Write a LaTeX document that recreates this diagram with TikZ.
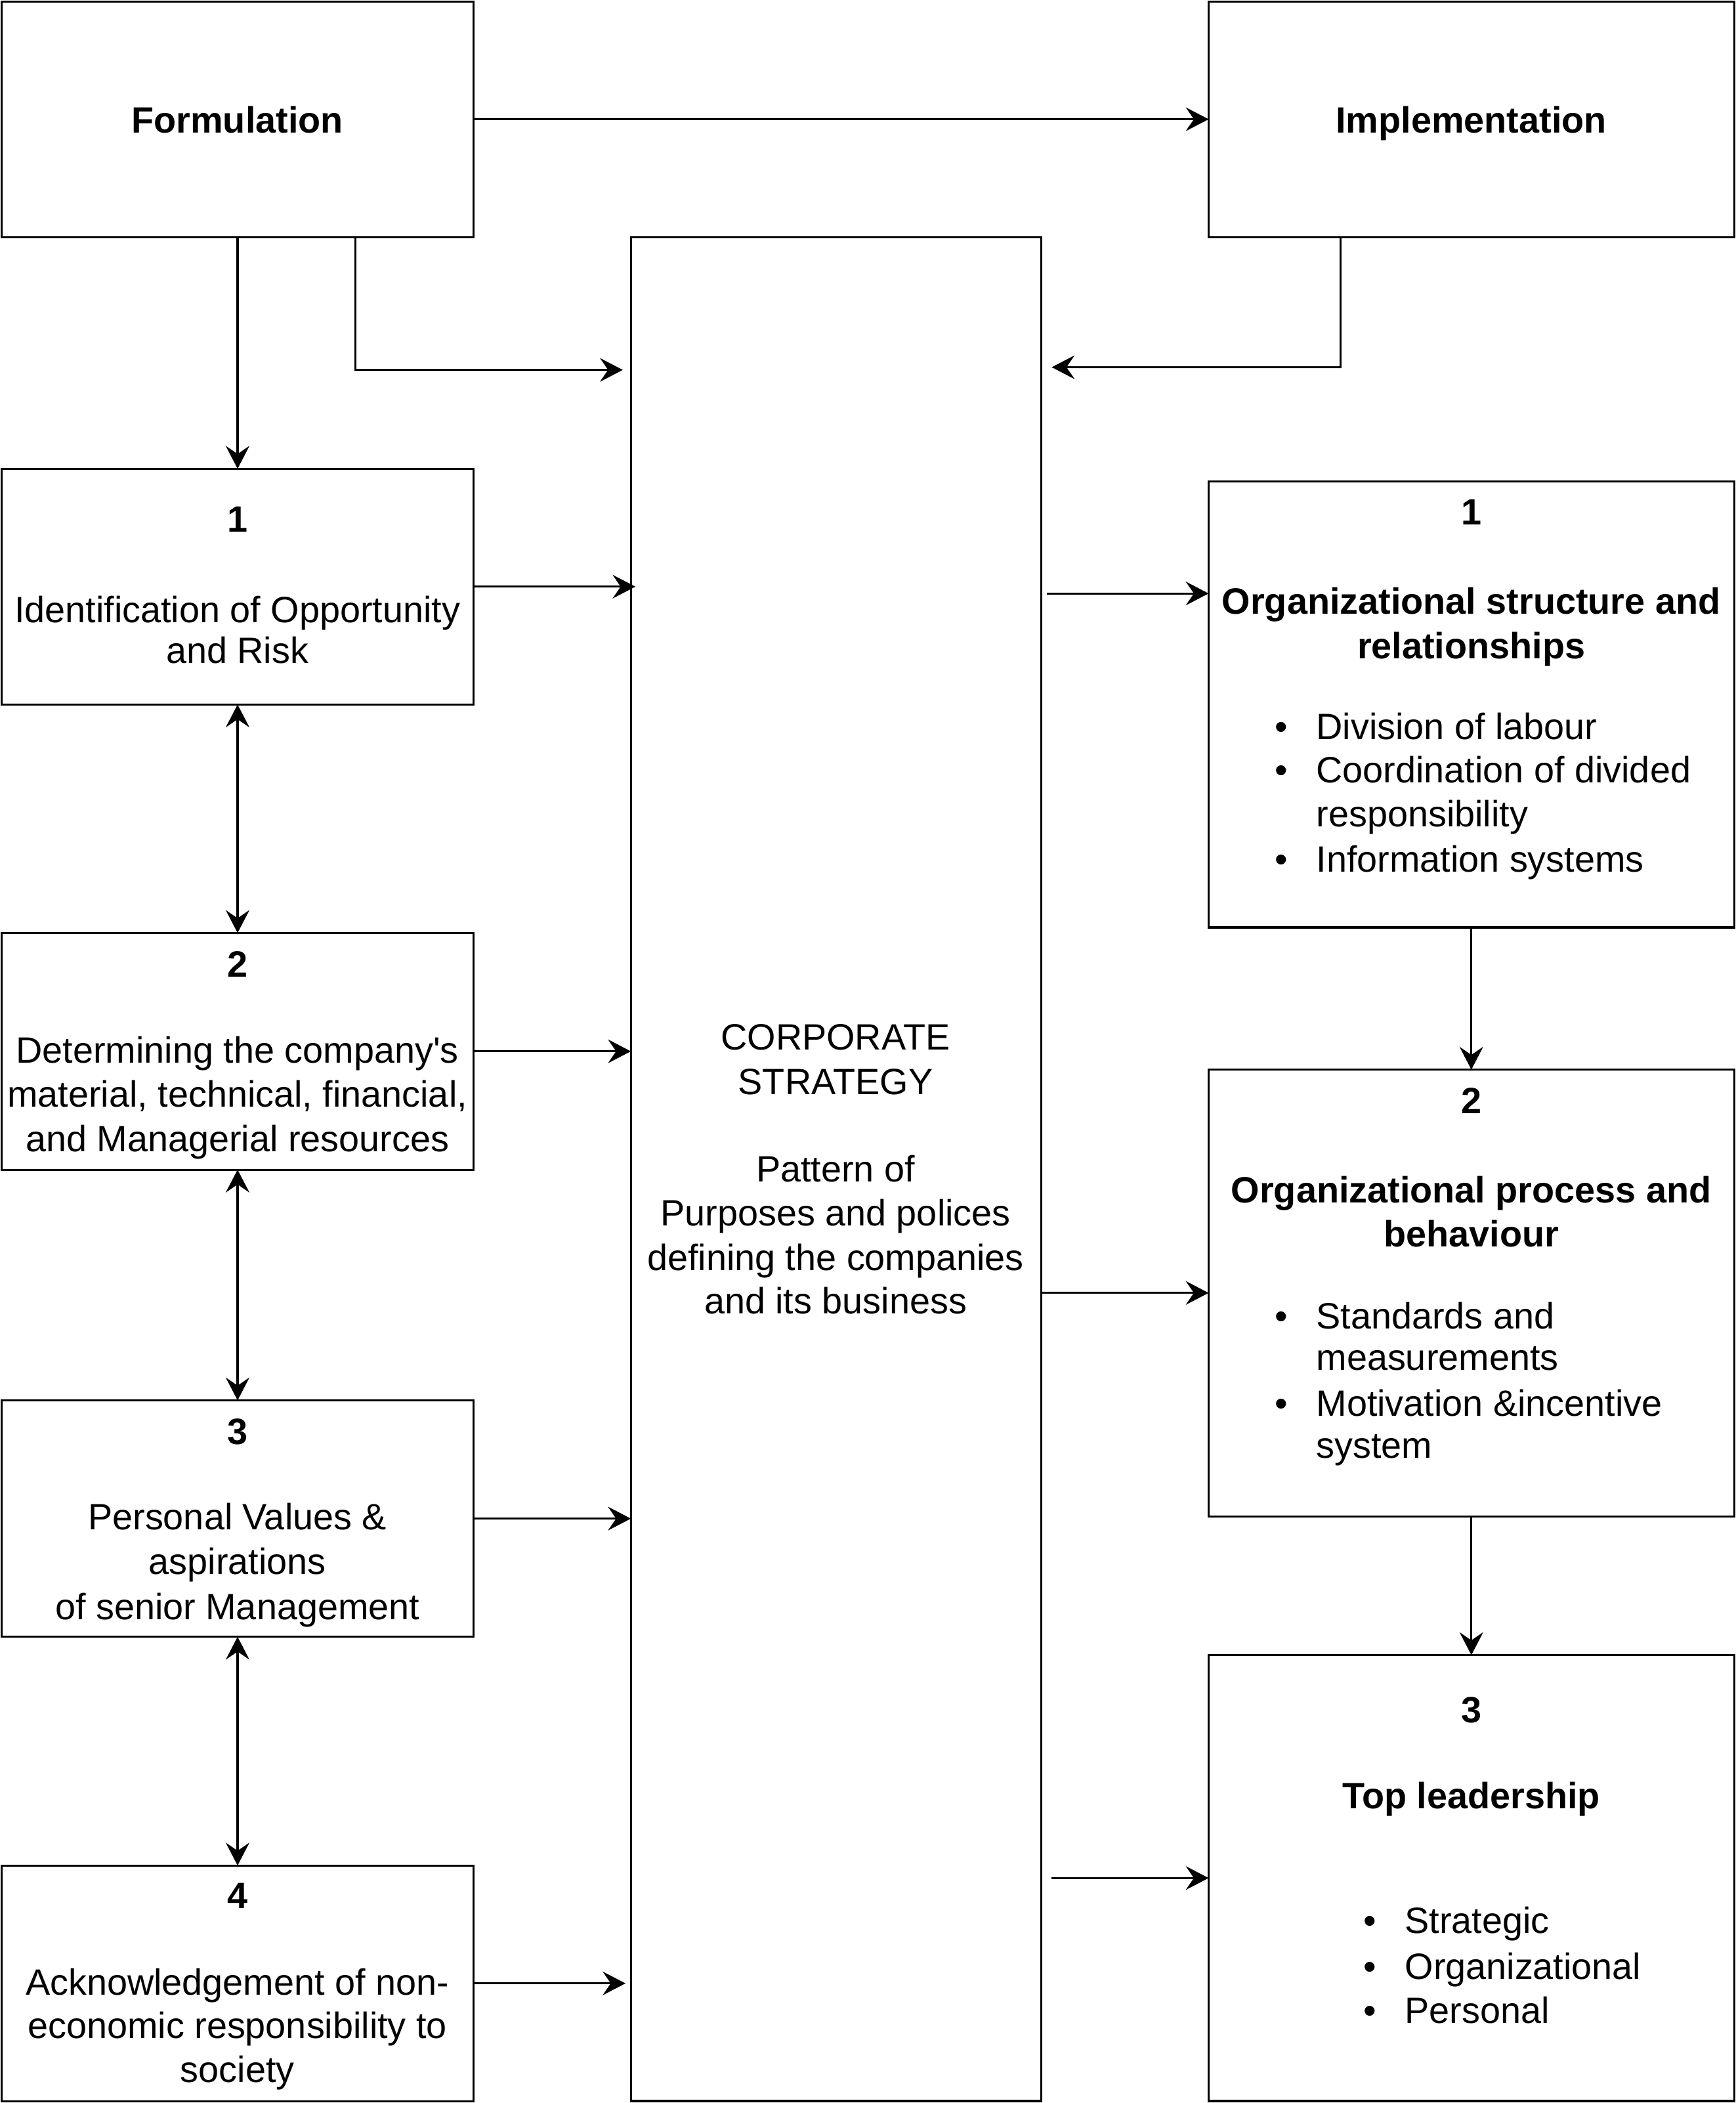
\documentclass[tikz,border=0pt]{standalone}
\usepackage{fontspec}
\setmainfont{Liberation Sans}[Ligatures=TeXOff]
\usetikzlibrary{arrows.meta,calc}
\tikzset{
  box/.style={draw=black, line width=0.75pt, rectangle, inner sep=0pt, outer sep=0pt, anchor=north west, fill=none},
  txt/.style={inner sep=0pt, outer sep=0pt, anchor=base, font=\fontsize{13.65}{16.5}\selectfont},
  btxt/.style={txt, font=\fontsize{13.65}{16.5}\selectfont\bfseries},
  ltxt/.style={txt, anchor=base west},
  arr/.style={draw=black, line width=0.75pt, -{Stealth[length=8.5pt, width=8.8pt, inset=3pt]}},
  darr/.style={draw=black, line width=0.75pt, {Stealth[length=8.5pt, width=8.8pt, inset=3pt]}-{Stealth[length=8.5pt, width=8.8pt, inset=3pt]}},
}
\newcommand\tline[5][txt]{\node[#1] (#2) at (#3,#4) {#5};}
\begin{document}
\begin{tikzpicture}[x=0.5pt, y=-0.5pt]
\fill[white] (0,0) rectangle (1294,1568);
\useasboundingbox (0,0) rectangle (1294,1568);

% boxes
\node[box, minimum width=176.15pt, minimum height=87.9pt] (F) at (1,1) {};
\node[box, minimum width=195.9pt, minimum height=87.9pt] (I) at (901.2,1) {};
\node[box, minimum width=152.9pt, minimum height=694.85pt] (C) at (470.4,176.8) {};
\node[box, minimum width=176.15pt, minimum height=87.9pt] (L1) at (1,349.5) {};
\node[box, minimum width=176.15pt, minimum height=88.25pt] (L2) at (1,695.6) {};
\node[box, minimum width=176.15pt, minimum height=88.15pt] (L3) at (1,1044.1) {};
\node[box, minimum width=176.15pt, minimum height=87.9pt] (L4) at (1,1390.9) {};
\node[box, minimum width=195.9pt, minimum height=166.2pt] (R1) at (901.2,359.1) {};
\node[box, minimum width=195.9pt, minimum height=166.5pt] (R2) at (901.2,797.5) {};
\node[box, minimum width=195.9pt, minimum height=166.25pt] (R3) at (901.2,1234) {};

% texts
\tline[btxt]{tF}{177}{99}{Formulation}
\tline[btxt]{tI}{1097}{99}{Implementation}

\tline[btxt]{tL1n}{177}{396.5}{1}
\tline{tL1a}{177}{464}{Identification of Opportunity}
\tline{tL1b}{177}{494.5}{and Risk}

\tline[btxt]{tL2n}{177}{728.5}{2}
\tline{tL2a}{177}{792.4}{Determining the company's}
\tline{tL2b}{177}{825.2}{material, technical, financial,}
\tline{tL2c}{177}{858.4}{and Managerial resources}

\tline[btxt]{tL3n}{177}{1077}{3}
\tline{tL3a}{177}{1140.5}{Personal Values \&}
\tline{tL3b}{177}{1174}{aspirations}
\tline{tL3c}{177}{1207.5}{of senior Management}

\tline[btxt]{tL4n}{177}{1423}{4}
\tline{tL4a}{177}{1487.6}{Acknowledgement of non-}
\tline{tL4b}{177}{1520}{economic responsibility to}
\tline{tL4c}{177}{1552.5}{society}

\tline{tCa}{623}{783}{CORPORATE}
\tline{tCb}{623}{816}{STRATEGY}
\tline{tCc}{623}{881}{Pattern of}
\tline{tCd}{623}{913.7}{Purposes and polices}
\tline{tCe}{623}{947.3}{defining the companies}
\tline{tCf}{623}{979.7}{and its business}

\tline[btxt]{tR1n}{1097}{391.5}{1}
\tline[btxt]{tR1a}{1097}{458}{Organizational structure and}
\tline[btxt]{tR1b}{1097}{491}{relationships}
\tline{bR1a}{955.5}{551.5}{•}
\tline[ltxt]{tR1c}{981.5}{551.5}{Division of labour}
\tline{bR1b}{955.5}{583.5}{•}
\tline[ltxt]{tR1d}{981.5}{583.5}{Coordination of divided}
\tline[ltxt]{tR1e}{981.5}{616.2}{responsibility}
\tline{bR1c}{955.5}{650}{•}
\tline[ltxt]{tR1f}{981.5}{650}{Information systems}

\tline[btxt]{tR2n}{1097}{830}{2}
\tline[btxt]{tR2a}{1097}{897}{Organizational process and}
\tline[btxt]{tR2b}{1097}{929.4}{behaviour}
\tline{bR2a}{955.5}{990.6}{•}
\tline[ltxt]{tR2c}{981.5}{990.6}{Standards and}
\tline[ltxt]{tR2d}{981.5}{1021.8}{measurements}
\tline{bR2b}{955.5}{1055.6}{•}
\tline[ltxt]{tR2e}{981.5}{1055.6}{Motivation \&incentive}
\tline[ltxt]{tR2f}{981.5}{1087}{system}

\tline[btxt]{tR3n}{1097}{1284.2}{3}
\tline[btxt]{tR3a}{1097}{1348.6}{Top leadership}
\tline{bR3a}{1021.5}{1441.7}{•}
\tline[ltxt]{tR3b}{1047.6}{1441.7}{Strategic}
\tline{bR3b}{1021.5}{1475.5}{•}
\tline[ltxt]{tR3c}{1047.6}{1475.5}{Organizational}
\tline{bR3c}{1021.5}{1508.6}{•}
\tline[ltxt]{tR3d}{1047.6}{1508.6}{Personal}

% connectors
\draw[arr] (F.east) -- (I.west);
\draw[arr] (F.south) -- (L1.north);
\draw[arr] ($(F.south)+(88,0)$) |- ($(C.north west)+(-6,99)$);
\draw[arr] ($(I.south)+(-97.7,0)$) |- ($(C.north east)+(8,97)$);

\draw[arr, shorten >=-1.7pt] (L1.east) -- (L1.east -| C.west);
\draw[arr] (L2.east) -- (L2.east -| C.west);
\draw[arr] (L3.east) -- (L3.east -| C.west);
\draw[arr, shorten >=2pt] (L4.east) -- (L4.east -| C.west);

\draw[darr] (L1.south) -- (L2.north);
\draw[darr] (L2.south) -- (L3.north);
\draw[darr] (L3.south) -- (L4.north);

\coordinate (r1in) at ($(R1.north west)+(0,83.4)$);
\draw[arr, shorten <=2.2pt] (r1in -| C.east) -- (r1in);
\draw[arr] (R2.west -| C.east) -- (R2.west);
\draw[arr, shorten <=4pt] (R3.west -| C.east) -- (R3.west);

\draw[arr] (R1.south) -- (R2.north);
\draw[arr] (R2.south) -- (R3.north);
\end{tikzpicture}
\end{document}
